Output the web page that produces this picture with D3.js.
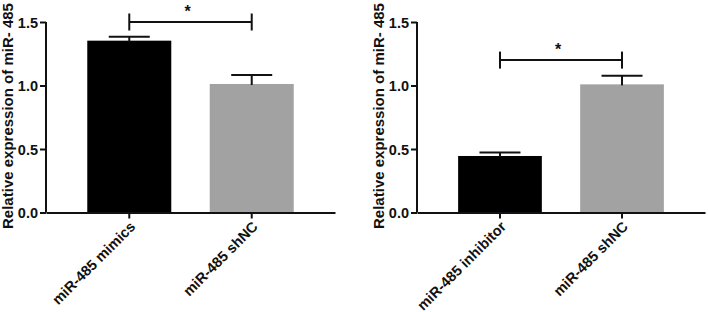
<!DOCTYPE html>
<html>
<head>
<meta charset="utf-8">
<script src="https://cdn.jsdelivr.net/npm/d3@7"></script>
<style>
  body { margin: 0; background: #fff; }
  svg text { font-family: "Liberation Sans", Arial, sans-serif; font-weight: bold; }
</style>
</head>
<body>
<svg id="chart" width="708" height="312"></svg>
<script>
const W = 708, H = 312;

// left panel
const leftGroups = ["miR-485 mimics", "miR-485 shNC"];
const leftMeans = [1.353, 1.012];
const leftErrors = [0.031, 0.071];
const leftSigLevel = 1.5;

// right panel
const rightGroups = ["miR-485 inhibitor", "miR-485 shNC"];
const rightMeans = [0.445, 1.009];
const rightErrors = [0.027, 0.068];
const rightSigLevel = 1.2;

const yTicks = [0, 0.5, 1.0, 1.5];
const barColors = ["#000000", "#a2a2a2"];
const yLabel = "Relative expression of miR- 485";

const svg = d3.select("#chart");

function drawPanel(opts) {
    const g = svg.append("g");

    const x = d3.scaleBand()
        .domain(opts.groups)
        .range([opts.x0, opts.x1])
        .paddingInner(0.314)
        .paddingOuter(0.337);

    const y = d3.scaleLinear()
        .domain([0, 1.5])
        .range([212.5, 22]);

    const data = opts.groups.map((d, i) => ({
        group: d, mean: opts.means[i], err: opts.errors[i], color: barColors[i]
    }));

    // bars
    g.selectAll(".bar").data(data).enter()
        .append("rect")
        .attr("x", d => x(d.group))
        .attr("y", d => y(d.mean))
        .attr("width", x.bandwidth())
        .attr("height", d => y(0) - y(d.mean))
        .attr("fill", d => d.color);

    // error bars (upper only)
    const capW = 41;
    const eb = g.selectAll(".err").data(data).enter().append("g");
    eb.append("line")
        .attr("x1", d => x(d.group) + x.bandwidth() / 2)
        .attr("x2", d => x(d.group) + x.bandwidth() / 2)
        .attr("y1", d => y(d.mean) + 1)
        .attr("y2", d => y(d.mean + d.err))
        .attr("stroke", "#111").attr("stroke-width", 2);
    eb.append("line")
        .attr("x1", d => x(d.group) + x.bandwidth() / 2 - capW / 2)
        .attr("x2", d => x(d.group) + x.bandwidth() / 2 + capW / 2)
        .attr("y1", d => y(d.mean + d.err))
        .attr("y2", d => y(d.mean + d.err))
        .attr("stroke", "#111").attr("stroke-width", 2);

    // y axis
    const yAxis = g.append("g")
        .attr("transform", `translate(${opts.x0},0)`)
        .call(d3.axisLeft(y).tickValues(yTicks).tickFormat(d3.format(".1f")).tickSize(6).tickPadding(2));
    yAxis.select(".domain").attr("stroke", "#111").attr("stroke-width", 2).attr("d", `M0,${y(0)}V${y(1.5)}`);
    yAxis.selectAll(".tick line").attr("stroke", "#111").attr("stroke-width", 2);
    yAxis.selectAll(".tick text").attr("font-size", 14.5).attr("fill", "#111").attr("dy", "0.36em");

    // x axis
    const xAxis = g.append("g")
        .attr("transform", `translate(0,${y(0)})`)
        .call(d3.axisBottom(x).tickSize(6).tickSizeOuter(0));
    xAxis.select(".domain").attr("stroke", "#111").attr("stroke-width", 2);
    xAxis.selectAll(".tick line").attr("stroke", "#111").attr("stroke-width", 2);
    xAxis.selectAll(".tick text")
        .attr("font-size", 14.5)
        .attr("fill", "#111")
        .attr("text-anchor", "end")
        .attr("x", 0).attr("y", 0).attr("dy", 0)
        .attr("transform", "translate(7,15) rotate(-45)");

    // y label
    g.append("text")
        .attr("transform", `translate(${opts.labelX},116) rotate(-90)`)
        .attr("text-anchor", "middle")
        .attr("font-size", 15)
        .attr("fill", "#111")
        .text(yLabel);

    // significance bracket
    const bx1 = x(opts.groups[0]) + x.bandwidth() / 2;
    const bx2 = x(opts.groups[1]) + x.bandwidth() / 2;
    const by = y(opts.sig);
    const br = g.append("g").attr("stroke", "#111").attr("stroke-width", 2);
    br.append("line").attr("x1", bx1).attr("x2", bx2).attr("y1", by).attr("y2", by);
    br.append("line").attr("x1", bx1).attr("x2", bx1).attr("y1", by - 8.5).attr("y2", by + 8.5);
    br.append("line").attr("x1", bx2).attr("x2", bx2).attr("y1", by - 8.5).attr("y2", by + 8.5);
    g.append("text")
        .attr("x", (bx1 + bx2) / 2 - 3)
        .attr("y", by - 5)
        .attr("text-anchor", "middle")
        .attr("font-size", 16)
        .attr("fill", "#111")
        .text("*");
}

drawPanel({ groups: leftGroups, means: leftMeans, errors: leftErrors, sig: leftSigLevel, x0: 46, x1: 335, labelX: 13 });
drawPanel({ groups: rightGroups, means: rightMeans, errors: rightErrors, sig: rightSigLevel, x0: 417, x1: 705, labelX: 384 });
</script>
</body>
</html>
